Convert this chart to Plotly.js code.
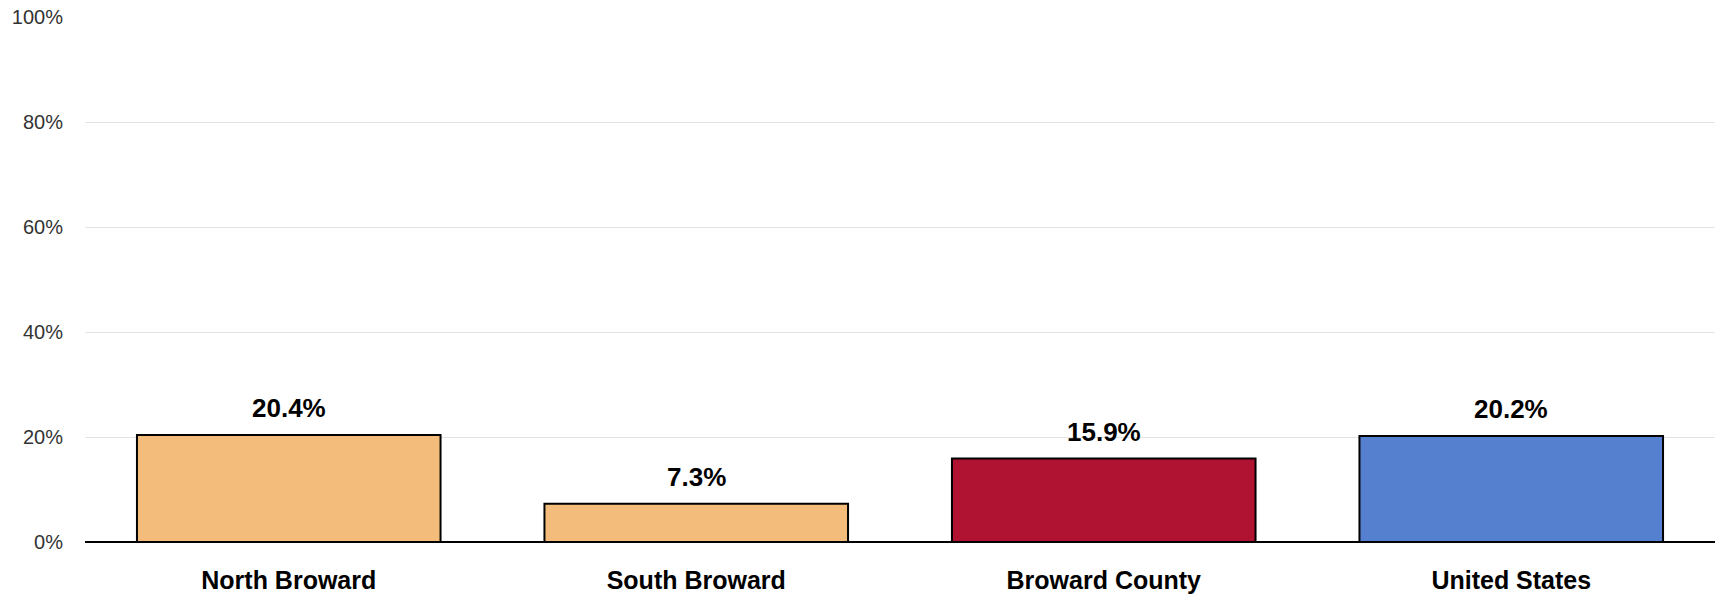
<!DOCTYPE html>
<html>
<head>
<meta charset="utf-8">
<script src="https://cdn.plot.ly/plotly-3.0.1.min.js"></script>
<style>html,body{margin:0;padding:0;background:#fff;}#chart{width:1715px;height:598px;}</style>
</head>
<body>
<div id="chart"></div>
<script>
const categories = ["North Broward", "South Broward", "Broward County", "United States"];
const values = [20.4, 7.3, 15.9, 20.2];
const labels = ["20.4%", "7.3%", "15.9%", "20.2%"];
const barColors = ["#F3BC7B", "#F3BC7B", "#B01232", "#5580CF"];
const yTickVals = [0, 20, 40, 60, 80, 100];
const yTickText = ["0%", "20%", "40%", "60%", "80%", "100%"];

const trace = {
  type: "bar",
  x: categories,
  y: values,
  marker: { color: barColors, line: { color: "#000000", width: 2 } },
  hoverinfo: "none"
};

const annotations = categories.map((c, i) => ({
  x: c, y: values[i], xref: "x", yref: "y",
  text: labels[i], showarrow: false, yanchor: "bottom", yshift: 10,
  font: { family: "Liberation Sans, Arial, sans-serif", size: 26, color: "#000000", weight: "bold" }
}));

const layout = {
  width: 1715, height: 598,
  margin: { l: 85, r: 0, t: 17, b: 56 },
  paper_bgcolor: "#ffffff", plot_bgcolor: "#ffffff",
  bargap: 0.255,
  showlegend: false,
  font: { family: "Liberation Sans, Arial, sans-serif" },
  xaxis: {
    type: "category",
    showgrid: false, showline: false, zeroline: false, ticks: "",
    ticklabelstandoff: 21,
    tickfont: { family: "Liberation Sans, Arial, sans-serif", size: 25, color: "#000000", weight: "bold" }
  },
  yaxis: {
    range: [0, 100], tickvals: yTickVals, ticktext: yTickText,
    showgrid: true, gridcolor: "#e3e3e3", gridwidth: 1,
    zeroline: true, zerolinecolor: "#000000", zerolinewidth: 1.5,
    showline: false, ticks: "", ticklabelstandoff: 21,
    tickfont: { family: "Liberation Sans, Arial, sans-serif", size: 20, color: "#333333" }
  },
  annotations: annotations
};

Plotly.newPlot("chart", [trace], layout, { displayModeBar: false, staticPlot: true });
</script>
</body>
</html>
